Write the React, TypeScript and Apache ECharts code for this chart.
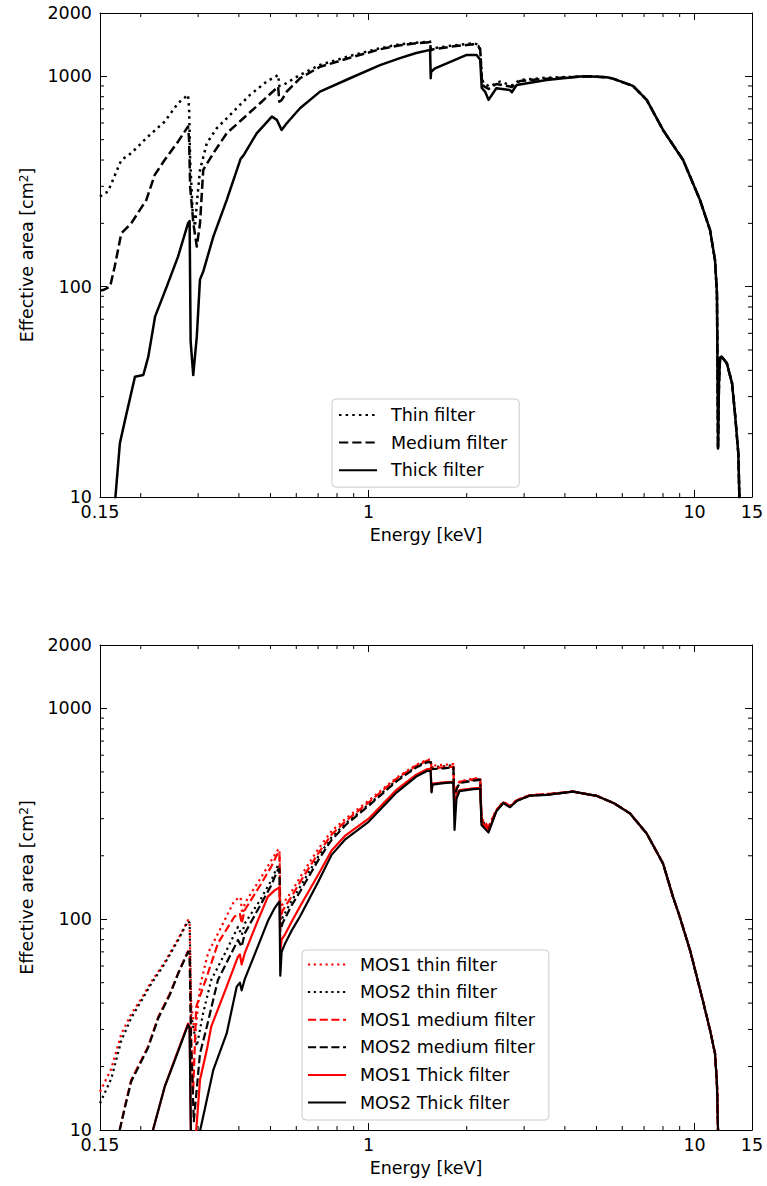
import React, { useEffect, useRef } from 'react';
import * as echarts from 'echarts';

type Pt = [number, number];

const FONT = 'DejaVu Sans';
const X_MIN = 0.15;
const X_MAX = 15;
const Y_MIN = 10;
const Y_MAX = 2000;

const xTickLabels = ['0.15', '1', '10', '15'];
const yTickLabels = ['10', '100', '1000', '2000'];
const xMinorTicks = [0.2, 0.3, 0.4, 0.5, 0.6, 0.7, 0.8, 0.9, 2, 3, 4, 5, 6, 7, 8, 9];
const yMinorTicks = [20, 30, 40, 50, 60, 70, 80, 90, 200, 300, 400, 500, 600, 700, 800, 900];

const topLegend = ['Thin filter', 'Medium filter', 'Thick filter'];
const bottomLegend = [
  'MOS1 thin filter',
  'MOS2 thin filter',
  'MOS1 medium filter',
  'MOS2 medium filter',
  'MOS1 Thick filter',
  'MOS2 Thick filter',
];

// ---------- top panel (energy keV, effective area cm2) ----------
const pnThin: Pt[] = [
  [0.15, 268], [0.155, 278], [0.1587, 283], [0.1743, 400], [0.187, 431], [0.2105, 517],
  [0.2368, 609], [0.2603, 745], [0.2793, 816], [0.2815, 700], [0.2835, 400], [0.2885, 230],
  [0.2934, 193], [0.298, 260], [0.304, 359], [0.319, 481], [0.342, 566], [0.3846, 679],
  [0.4326, 816], [0.4868, 944], [0.5225, 1005], [0.528, 1016], [0.532, 900], [0.5475, 910],
  [0.6164, 1016], [0.7095, 1133], [0.877, 1250], [1.084, 1360], [1.248, 1420], [1.4, 1445],
  [1.544, 1462], [1.551, 1350], [1.58, 1359], [1.8, 1400], [2.096, 1437], [2.171, 1415],
  [2.2, 1350], [2.224, 1000], [2.248, 927], [2.349, 894], [2.529, 944], [2.715, 910],
  [2.75, 905], [2.914, 961], [3.518, 985],
];
const pnMedium: Pt[] = [
  [0.15, 96], [0.1532, 96.4], [0.1611, 100], [0.1663, 124], [0.1743, 179], [0.187, 200],
  [0.208, 258], [0.2208, 340], [0.2368, 400], [0.2603, 489], [0.2793, 577], [0.2815, 500],
  [0.2835, 300], [0.29, 200], [0.2972, 155], [0.304, 200], [0.311, 359], [0.334, 431],
  [0.367, 536], [0.413, 632], [0.4646, 745], [0.5225, 880], [0.528, 894], [0.532, 758],
  [0.541, 770], [0.561, 846], [0.616, 979], [0.7095, 1110], [0.877, 1225], [1.084, 1345],
  [1.248, 1405], [1.4, 1435], [1.544, 1455], [1.551, 1330], [1.58, 1345], [1.8, 1385],
  [2.096, 1420], [2.171, 1395], [2.2, 1330], [2.224, 980], [2.248, 900], [2.333, 870],
  [2.465, 920], [2.715, 895], [2.75, 890], [2.914, 950], [3.518, 975],
];
const pnThick: Pt[] = [
  [0.1668, 9.5], [0.1726, 18], [0.179, 23.2], [0.192, 37.3], [0.2037, 38], [0.211, 46.5],
  [0.2213, 72], [0.2403, 100], [0.2603, 139], [0.2793, 200], [0.2825, 205], [0.2833, 120],
  [0.2845, 55], [0.2898, 38], [0.2972, 58], [0.3039, 108], [0.311, 118], [0.334, 173],
  [0.367, 258], [0.405, 405], [0.413, 420], [0.4536, 536], [0.505, 643], [0.523, 621],
  [0.541, 556], [0.561, 598], [0.616, 705], [0.7095, 846], [0.877, 979], [1.084, 1130],
  [1.248, 1220], [1.4, 1290], [1.544, 1336], [1.551, 979], [1.555, 1050], [1.599, 1092],
  [2.0, 1264], [2.146, 1264], [2.2, 1197], [2.224, 880], [2.276, 846], [2.333, 773],
  [2.465, 877], [2.715, 861], [2.75, 840], [2.846, 910], [3.518, 961],
];
const pnTail: Pt[] = [
  [4.452, 997], [4.667, 1000], [5.376, 990], [5.62, 975], [6.47, 900], [7.13, 773],
  [8.0, 556], [9.22, 400], [10.39, 258], [11.15, 186], [11.55, 134], [11.71, 93],
  [11.76, 40], [11.8, 17], [11.88, 35], [11.97, 46], [12.1, 46.5], [12.56, 43.2],
  [13.03, 34.7], [13.3, 25], [13.62, 16.1], [13.72, 10], [13.78, 8],
];

// ---------- bottom panel ----------
const mos1Thin: Pt[] = [
  [0.15, 15.2], [0.1624, 19.5], [0.1743, 28.5], [0.187, 35.5], [0.2009, 42], [0.2156, 50.5],
  [0.2368, 62.5], [0.2603, 80.5], [0.2793, 99], [0.2825, 97], [0.2855, 40], [0.2934, 28],
  [0.304, 48], [0.3216, 69], [0.3534, 92], [0.388, 123], [0.405, 127], [0.41, 103],
  [0.417, 119], [0.4646, 155], [0.503, 190], [0.527, 213], [0.533, 215], [0.536, 110],
  [0.545, 118], [0.58, 135], [0.616, 158], [0.7, 215], [0.77, 262], [0.85, 300], [1.0, 365],
  [1.22, 470], [1.4, 540], [1.51, 570], [1.55, 572], [1.56, 535], [1.7, 540], [1.82, 545],
  [1.835, 350], [1.86, 420], [1.9, 450], [2.1, 465], [2.2, 468], [2.22, 300], [2.333, 275],
  [2.465, 330], [2.59, 361], [2.715, 345], [2.846, 368], [3.125, 388], [3.518, 392],
];
const mos2Thin: Pt[] = [
  [0.15, 13.4], [0.1624, 17.5], [0.1743, 26.5], [0.187, 34], [0.2009, 41], [0.2156, 49.5],
  [0.2368, 61.5], [0.2603, 79.5], [0.2793, 98], [0.2825, 96], [0.2855, 35], [0.2972, 25],
  [0.311, 36], [0.329, 51.5], [0.367, 71.4], [0.3975, 92], [0.408, 84], [0.417, 95.5],
  [0.4646, 123], [0.503, 153], [0.527, 180], [0.533, 182], [0.536, 95], [0.545, 102],
  [0.58, 122], [0.616, 142], [0.7, 198], [0.77, 245], [0.85, 285], [1.0, 350], [1.22, 458],
  [1.4, 530], [1.51, 560], [1.55, 562], [1.56, 525], [1.7, 532], [1.82, 538], [1.835, 345],
  [1.86, 415], [1.9, 445], [2.1, 458], [2.2, 462], [2.22, 295], [2.333, 270], [2.465, 328],
  [2.59, 358], [2.715, 342], [2.846, 366], [3.125, 387], [3.518, 391],
];
const mos1Medium: Pt[] = [
  [0.1724, 10], [0.1787, 12.9], [0.187, 17.3], [0.2009, 21.5], [0.2105, 24.8], [0.2265, 34.5],
  [0.246, 44.5], [0.2603, 55.4], [0.2793, 70.5], [0.2825, 69], [0.2855, 28], [0.2895, 15],
  [0.296, 38.5], [0.319, 53.4], [0.345, 76.9], [0.388, 103], [0.403, 106], [0.408, 95.5],
  [0.417, 110.6], [0.469, 148], [0.503, 178], [0.527, 206], [0.533, 207], [0.536, 100],
  [0.545, 110], [0.58, 128], [0.616, 150], [0.7, 205], [0.77, 252], [0.85, 292], [1.0, 358],
  [1.22, 465], [1.4, 535], [1.51, 565], [1.55, 567], [1.56, 520], [1.7, 526], [1.82, 530],
  [1.835, 340], [1.86, 418], [1.9, 448], [2.1, 462], [2.2, 465], [2.22, 298], [2.333, 272],
  [2.465, 329], [2.59, 360], [2.715, 344], [2.846, 367], [3.125, 388], [3.518, 392],
];
const mos2Medium: Pt[] = [
  [0.1724, 10], [0.1787, 12.7], [0.187, 17], [0.2009, 21.2], [0.2105, 24.5], [0.2265, 34],
  [0.246, 44], [0.2603, 55], [0.2793, 70], [0.2825, 68], [0.2855, 25], [0.291, 11],
  [0.304, 23.1], [0.319, 30.9], [0.345, 51.5], [0.3975, 79.7], [0.408, 74], [0.417, 85.7],
  [0.469, 119], [0.503, 145], [0.527, 172], [0.533, 173], [0.536, 88], [0.545, 96],
  [0.58, 116], [0.616, 135], [0.7, 190], [0.77, 238], [0.85, 280], [1.0, 345], [1.22, 452],
  [1.4, 525], [1.51, 555], [1.55, 557], [1.56, 515], [1.7, 520], [1.82, 526], [1.835, 335],
  [1.86, 412], [1.9, 442], [2.1, 455], [2.2, 458], [2.22, 290], [2.333, 265], [2.465, 326],
  [2.59, 357], [2.715, 341], [2.846, 365], [3.125, 386], [3.518, 390],
];
const mos1Thick: Pt[] = [
  [0.2181, 10], [0.2368, 16], [0.254, 21.5], [0.2793, 32], [0.2825, 31], [0.2845, 12],
  [0.2855, 8], [0.296, 10], [0.304, 17.3], [0.319, 24], [0.329, 30.9], [0.367, 47.9],
  [0.3975, 66.4], [0.403, 68], [0.408, 61], [0.417, 69], [0.4536, 95.5], [0.491, 128],
  [0.515, 137], [0.527, 140], [0.533, 142], [0.536, 70], [0.541, 80], [0.555, 85],
  [0.58, 97], [0.616, 115], [0.7, 162], [0.77, 212], [0.85, 250], [1.0, 300], [1.22, 412],
  [1.4, 485], [1.51, 515], [1.55, 517], [1.56, 405], [1.57, 440], [1.7, 446], [1.82, 449],
  [1.835, 330], [1.86, 380], [1.9, 410], [2.1, 418], [2.2, 420], [2.22, 290], [2.333, 262],
  [2.465, 327], [2.59, 358], [2.715, 342], [2.846, 366], [3.125, 387], [3.518, 390],
];
const mos2Thick: Pt[] = [
  [0.2181, 10], [0.2368, 16], [0.254, 21.3], [0.2793, 31.5], [0.2825, 30.5], [0.2845, 12],
  [0.2855, 8], [0.3033, 9], [0.3045, 10], [0.319, 13.9], [0.334, 19.3], [0.367, 28.7],
  [0.394, 47.9], [0.403, 50], [0.408, 46], [0.417, 52], [0.4536, 72], [0.491, 98],
  [0.515, 113], [0.527, 119], [0.533, 121], [0.536, 54], [0.541, 70], [0.555, 77],
  [0.58, 88], [0.616, 103], [0.7, 150], [0.77, 202], [0.85, 240], [1.0, 290], [1.22, 400],
  [1.4, 475], [1.51, 505], [1.55, 507], [1.56, 400], [1.57, 435], [1.7, 442], [1.82, 446],
  [1.835, 265], [1.86, 372], [1.9, 405], [2.1, 414], [2.2, 416], [2.22, 280], [2.333, 258],
  [2.465, 325], [2.59, 356], [2.715, 340], [2.846, 364], [3.125, 386], [3.518, 389],
];
const mosTail: Pt[] = [
  [4.24, 403], [5.0, 385], [5.66, 355], [6.33, 318], [7.13, 255], [8.0, 184], [8.58, 128],
  [9.0, 103], [9.69, 71], [10.59, 41.4], [11.15, 29.8], [11.55, 23.1], [11.71, 16.6],
  [11.8, 10], [11.83, 6],
];

const fmt = (v: number) => String(Number(Number(v).toPrecision(4)));
const MAJOR_LEN = 7;
const MINOR_LEN = 4;
const FS = 17.5;

function makeAxes(gridIndex: number) {
  const common = {
    gridIndex,
    type: 'log' as const,
    logBase: 10,
    splitLine: { show: false },
    axisLine: { show: true, onZero: false, lineStyle: { color: '#000', width: 1 } },
    axisTick: { show: true, inside: true, length: MAJOR_LEN, lineStyle: { color: '#000', width: 1 } },
  };
  const xs = [
    {
      ...common,
      min: X_MIN,
      max: X_MAX,
      position: 'bottom',
      name: 'Energy [keV]',
      nameLocation: 'middle',
      nameGap: 29,
      nameTextStyle: { fontFamily: FONT, fontSize: FS, color: '#000' },
      axisLabel: {
        show: true,
        margin: 6,
        fontFamily: FONT,
        fontSize: FS,
        color: '#000',
        formatter: (v: number) => (xTickLabels.includes(fmt(v)) ? fmt(v) : ''),
      },
    },
    { ...common, min: X_MIN, max: X_MAX, position: 'top', axisLabel: { show: false } },
  ];
  const ys = [
    {
      ...common,
      min: Y_MIN,
      max: Y_MAX,
      position: 'left',
      name: '{a|Effective area [cm}{s|2}{a|]}',
      nameLocation: 'middle',
      nameGap: 64,
      nameTextStyle: {
        fontFamily: FONT,
        fontSize: FS,
        color: '#000',
        rich: {
          a: { fontFamily: FONT, fontSize: FS, color: '#000' },
          s: { fontFamily: FONT, fontSize: 12, color: '#000', verticalAlign: 'top' },
        },
      },
      axisLabel: {
        show: true,
        margin: 8,
        fontFamily: FONT,
        fontSize: FS,
        color: '#000',
        formatter: (v: number) => (yTickLabels.includes(fmt(v)) ? fmt(v) : ''),
      },
    },
    { ...common, min: Y_MIN, max: Y_MAX, position: 'right', axisLabel: { show: false } },
  ];
  return { xs, ys };
}

function minorTickSeries(gridIndex: number, dir: 'x' | 'y') {
  return {
    type: 'custom',
    xAxisIndex: gridIndex * 2,
    yAxisIndex: gridIndex * 2,
    silent: true,
    clip: false,
    z: 6,
    data: dir === 'x' ? xMinorTicks.map((v) => [v, Y_MIN]) : yMinorTicks.map((v) => [X_MIN, v]),
    renderItem: (_params: any, api: any) => {
      const style = { stroke: '#000', lineWidth: 1 };
      if (dir === 'x') {
        const v = api.value(0);
        const b = api.coord([v, Y_MIN]);
        const t = api.coord([v, Y_MAX]);
        return {
          type: 'group',
          children: [
            { type: 'line', shape: { x1: b[0], y1: b[1], x2: b[0], y2: b[1] - MINOR_LEN }, style },
            { type: 'line', shape: { x1: t[0], y1: t[1], x2: t[0], y2: t[1] + MINOR_LEN }, style },
          ],
        };
      }
      const v = api.value(1);
      const l = api.coord([X_MIN, v]);
      const r = api.coord([X_MAX, v]);
      return {
        type: 'group',
        children: [
          { type: 'line', shape: { x1: l[0], y1: l[1], x2: l[0] + MINOR_LEN, y2: l[1] }, style },
          { type: 'line', shape: { x1: r[0], y1: r[1], x2: r[0] - MINOR_LEN, y2: r[1] }, style },
        ],
      };
    },
  };
}

function lineSeries(name: string, data: Pt[], gridIndex: number, color: string, kind: 'dotted' | 'dashed' | 'solid', lw: number) {
  const type =
    kind === 'dotted' ? [lw, lw * 1.65] : kind === 'dashed' ? [lw * 3.7, lw * 1.6] : 'solid';
  return {
    type: 'line',
    name,
    xAxisIndex: gridIndex * 2,
    yAxisIndex: gridIndex * 2,
    data,
    symbol: 'none',
    showSymbol: false,
    clip: true,
    lineStyle: { color, width: lw, type, cap: 'butt', join: 'round' },
    itemStyle: { color },
    emphasis: { disabled: true },
  };
}

function legendOpt(data: string[], left: number, top: number, padding: number[]) {
  return {
    data,
    orient: 'vertical',
    left,
    top,
    padding,
    itemWidth: 38,
    itemHeight: 20,
    itemGap: 7.6,
    backgroundColor: 'rgba(255,255,255,0.8)',
    borderColor: '#cccccc',
    borderWidth: 1,
    borderRadius: 4,
    selectedMode: false,
    itemStyle: { opacity: 0, borderWidth: 0 },
    textStyle: {
      fontFamily: FONT,
      fontSize: FS,
      color: '#000',
      lineHeight: 20,
      padding: [0, 0, 0, 9],
    },
  };
}

export default function App() {
  const ref = useRef<HTMLDivElement>(null);
  useEffect(() => {
    if (!ref.current) return;
    const chart = echarts.init(ref.current, null, { renderer: 'svg' });
    const a0 = makeAxes(0);
    const a1 = makeAxes(1);
    const LW_TOP = 2.5;
    const LW_BOT = 2.2;
    const option: any = {
      animation: false,
      backgroundColor: '#ffffff',
      textStyle: { fontFamily: FONT },
      grid: [
        { left: 100, top: 13, width: 652, height: 484 },
        { left: 100, top: 645, width: 652, height: 485 },
      ],
      xAxis: [...a0.xs, ...a1.xs],
      yAxis: [...a0.ys, ...a1.ys],
      legend: [
        legendOpt(topLegend, 332, 399, [6, 12, 7, 6]),
        legendOpt(bottomLegend, 302, 950, [4.5, 14, 7.5, 5]),
      ],
      series: [
        lineSeries(topLegend[0], [...pnThin, ...pnTail], 0, '#000', 'dotted', LW_TOP),
        lineSeries(topLegend[1], [...pnMedium, ...pnTail], 0, '#000', 'dashed', LW_TOP),
        lineSeries(topLegend[2], [...pnThick, ...pnTail], 0, '#000', 'solid', LW_TOP),
        lineSeries(bottomLegend[0], [...mos1Thin, ...mosTail], 1, '#ff0000', 'dotted', LW_BOT),
        lineSeries(bottomLegend[1], [...mos2Thin, ...mosTail], 1, '#000', 'dotted', LW_BOT),
        lineSeries(bottomLegend[2], [...mos1Medium, ...mosTail], 1, '#ff0000', 'dashed', LW_BOT),
        lineSeries(bottomLegend[3], [...mos2Medium, ...mosTail], 1, '#000', 'dashed', LW_BOT),
        lineSeries(bottomLegend[4], [...mos1Thick, ...mosTail], 1, '#ff0000', 'solid', LW_BOT),
        lineSeries(bottomLegend[5], [...mos2Thick, ...mosTail], 1, '#000', 'solid', LW_BOT),
        minorTickSeries(0, 'x'),
        minorTickSeries(0, 'y'),
        minorTickSeries(1, 'x'),
        minorTickSeries(1, 'y'),
      ],
    };
    chart.setOption(option);
    return () => chart.dispose();
  }, []);
  return (
    <div
      ref={ref}
      style={{ position: 'fixed', left: 0, top: 0, width: 767, height: 1186, background: '#fff' }}
    />
  );
}
